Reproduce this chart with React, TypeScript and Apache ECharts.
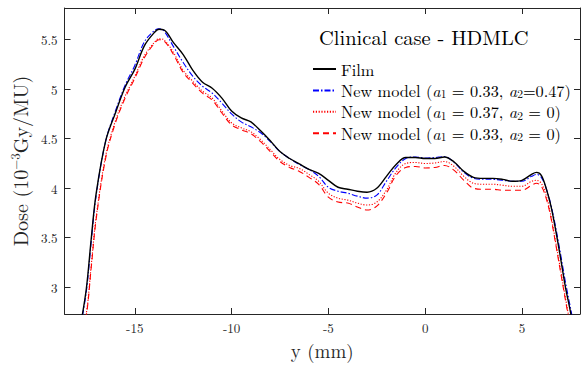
import React, { useEffect, useRef } from "react";
import * as echarts from "echarts";

const xs = [-17.8, -17.5, -17.25, -17, -16.5, -16, -15.5, -15, -14.5, -14, -13.75, -13.5, -13, -12.5, -12, -11.5, -11, -10.5, -10, -9.5, -9, -8.5, -8, -7.5, -7, -6.5, -6, -5.5, -5, -4.5, -4, -3.5, -3, -2.5, -2, -1.5, -1, -0.5, 0, 0.5, 1, 1.5, 2, 2.5, 3, 3.5, 4, 4.5, 5, 5.5, 5.75, 6, 6.25, 6.5, 6.75, 7, 7.25, 7.5, 7.75];

const film = [2.62, 2.99, 3.49, 3.94, 4.48, 4.76, 5.02, 5.2, 5.44, 5.57, 5.605, 5.6, 5.47, 5.35, 5.19, 5.07, 5.01, 4.91, 4.78, 4.71, 4.67, 4.58, 4.48, 4.37, 4.3, 4.245, 4.19, 4.15, 4.08, 4.01, 3.99, 3.97, 3.96, 4.0, 4.12, 4.24, 4.31, 4.31, 4.3, 4.3, 4.315, 4.265, 4.17, 4.11, 4.1, 4.1, 4.09, 4.07, 4.08, 4.14, 4.16, 4.13, 4.0, 3.82, 3.57, 3.29, 3.0, 2.76, 2.5];

const modelA = [2.6, 2.96, 3.46, 3.92, 4.48, 4.78, 5.04, 5.24, 5.48, 5.59, 5.61, 5.59, 5.43, 5.27, 5.13, 5.03, 4.96, 4.86, 4.75, 4.67, 4.62, 4.56, 4.47, 4.37, 4.3, 4.24, 4.19, 4.12, 4.01, 3.97, 3.95, 3.92, 3.9, 3.93, 4.07, 4.21, 4.3, 4.315, 4.305, 4.31, 4.32, 4.26, 4.16, 4.1, 4.09, 4.09, 4.08, 4.07, 4.07, 4.12, 4.14, 4.11, 4.0, 3.83, 3.6, 3.33, 3.05, 2.8, 2.55];

const modelB = [2.5, 2.74, 3.22, 3.7, 4.33, 4.68, 4.93, 5.13, 5.34, 5.47, 5.51, 5.5, 5.37, 5.19, 5.08, 4.98, 4.91, 4.78, 4.66, 4.61, 4.57, 4.49, 4.39, 4.29, 4.23, 4.2, 4.14, 4.07, 3.95, 3.9, 3.88, 3.85, 3.83, 3.86, 3.98, 4.16, 4.25, 4.26, 4.25, 4.255, 4.27, 4.22, 4.12, 4.05, 4.04, 4.04, 4.03, 4.02, 4.02, 4.07, 4.08, 4.05, 3.93, 3.72, 3.45, 3.17, 2.89, 2.62, 2.4];

const modelC = [2.48, 2.72, 3.2, 3.68, 4.31, 4.66, 4.91, 5.11, 5.32, 5.46, 5.5, 5.49, 5.35, 5.17, 5.06, 4.96, 4.89, 4.76, 4.64, 4.59, 4.55, 4.47, 4.37, 4.27, 4.21, 4.17, 4.11, 4.04, 3.91, 3.86, 3.85, 3.81, 3.78, 3.82, 3.95, 4.13, 4.21, 4.22, 4.205, 4.21, 4.23, 4.18, 4.08, 4.0, 3.99, 3.99, 3.98, 3.98, 3.98, 4.03, 4.05, 4.02, 3.9, 3.7, 3.43, 3.15, 2.87, 2.6, 2.38];

const xTicks = [-15, -10, -5, 0, 5];
const yTicks = [3, 3.5, 4, 4.5, 5, 5.5];

const seriesNames = [
  "Film",
  "New model (a1=0.33, a2=0.47)",
  "New model (a1=0.37, a2=0)",
  "New model (a1=0.33, a2=0)",
];

const legendRich: Record<string, string> = {
  [seriesNames[0]]: "Film",
  [seriesNames[1]]: "New model ({it|a}{sub|1}{n| = 0.33, }{it|a}{sub|2}{n|=0.47)}",
  [seriesNames[2]]: "New model ({it|a}{sub|1}{n| = 0.37, }{it|a}{sub|2}{n| = 0)}",
  [seriesNames[3]]: "New model ({it|a}{sub|1}{n| = 0.33, }{it|a}{sub|2}{n| = 0)}",
};

const FONT = '"Latin Modern Roman", "CMU Serif", "Liberation Serif", serif';
const AX = "#262626";
const LFS = 16.3;

export default function App() {
  const ref = useRef<HTMLDivElement>(null);
  useEffect(() => {
    if (!ref.current) return;
    const chart = echarts.init(ref.current, null, { renderer: "svg" });
    const mk = (ys: number[]) => xs.map((x, i) => [x, ys[i]]);
    const baseAxisLine = { show: true, onZero: false, lineStyle: { color: AX, width: 1 } };
    const tick = (vals: number[]) => ({ show: true, inside: true, length: 6, customValues: vals, lineStyle: { color: AX } });
    chart.setOption({
      animation: false,
      title: {
        text: "Clinical case - HDMLC",
        left: 319,
        top: 26,
        padding: 0,
        textStyle: { fontFamily: FONT, fontSize: 20.5, fontWeight: "normal", color: "#000" },
      },
      legend: {
        orient: "vertical",
        left: 312,
        top: 60,
        padding: 0,
        itemWidth: 23,
        itemHeight: 12,
        itemGap: 3.4,
        data: seriesNames,
        itemStyle: { color: "rgba(0,0,0,0)", borderColor: "rgba(0,0,0,0)", borderWidth: 0 },
        formatter: (name: string) => legendRich[name] || name,
        textStyle: {
          fontFamily: FONT,
          fontSize: LFS,
          color: "#000",
          lineHeight: 18,
          rich: {
            n: { fontFamily: FONT, fontSize: LFS, color: "#000", lineHeight: 18 },
            it: { fontFamily: FONT, fontSize: LFS, fontStyle: "italic", color: "#000", lineHeight: 18 },
            sub: { fontFamily: FONT, fontSize: 11.5, color: "#000", lineHeight: 11, verticalAlign: "bottom" },
          },
        },
      },
      grid: { left: 62, right: 4, top: 8, bottom: 49, containLabel: false },
      xAxis: [
        {
          type: "value",
          min: -18.63,
          max: 8,
          position: "bottom",
          axisLine: baseAxisLine,
          axisTick: tick(xTicks),
          axisLabel: { customValues: xTicks, margin: 6, fontFamily: FONT, fontSize: 13, color: AX, lineHeight: 14 },
          splitLine: { show: false },
          name: "y (mm)",
          nameLocation: "middle",
          nameGap: 26,
          nameTextStyle: { fontFamily: FONT, fontSize: 19, color: AX, lineHeight: 20 },
        },
        {
          type: "value",
          min: -18.63,
          max: 8,
          position: "top",
          axisLine: baseAxisLine,
          axisTick: tick(xTicks),
          axisLabel: { show: false },
          splitLine: { show: false },
        },
      ],
      yAxis: [
        {
          type: "value",
          min: 2.73,
          max: 5.82,
          position: "left",
          axisLine: baseAxisLine,
          axisTick: tick(yTicks),
          axisLabel: { customValues: yTicks, margin: 7, fontFamily: FONT, fontSize: 13, color: AX },
          splitLine: { show: false },
          name: "Dose ({n|10}{sup|−3}{n|Gy/MU})",
          nameLocation: "middle",
          nameGap: 23,
          nameRotate: 90,
          nameTextStyle: {
            fontFamily: FONT,
            fontSize: 20,
            color: AX,
            lineHeight: 22,
            rich: {
              n: { fontFamily: FONT, fontSize: 20, color: AX, lineHeight: 22 },
              sup: { fontFamily: FONT, fontSize: 13, color: AX, lineHeight: 13, verticalAlign: "top" },
            },
          },
        },
        {
          type: "value",
          min: 2.73,
          max: 5.82,
          position: "right",
          axisLine: baseAxisLine,
          axisTick: tick(yTicks),
          axisLabel: { show: false },
          splitLine: { show: false },
        },
      ],
      series: [
        {
          name: seriesNames[0],
          type: "line",
          data: mk(film),
          smooth: 0.35,
          showSymbol: false,
          symbol: "none",
          lineStyle: { color: "#000000", width: 1.4, type: "solid" },
          itemStyle: { color: "#000000" },
          z: 5,
        },
        {
          name: seriesNames[1],
          type: "line",
          data: mk(modelA),
          smooth: 0.35,
          showSymbol: false,
          symbol: "none",
          lineStyle: { color: "#0000ff", width: 1.1, type: [6, 2, 1.5, 2] },
          itemStyle: { color: "#0000ff" },
          z: 4,
        },
        {
          name: seriesNames[2],
          type: "line",
          data: mk(modelB),
          smooth: 0.35,
          showSymbol: false,
          symbol: "none",
          lineStyle: { color: "#ff0000", width: 1.1, type: [1.2, 1.6] },
          itemStyle: { color: "#ff0000" },
          z: 3,
        },
        {
          name: seriesNames[3],
          type: "line",
          data: mk(modelC),
          smooth: 0.35,
          showSymbol: false,
          symbol: "none",
          lineStyle: { color: "#ff0000", width: 1.1, type: [6, 4] },
          itemStyle: { color: "#ff0000" },
          z: 2,
        },
      ],
    });
    return () => chart.dispose();
  }, []);
  return <div ref={ref} style={{ width: 584, height: 365, position: "absolute", left: 0, top: 0 }} />;
}
